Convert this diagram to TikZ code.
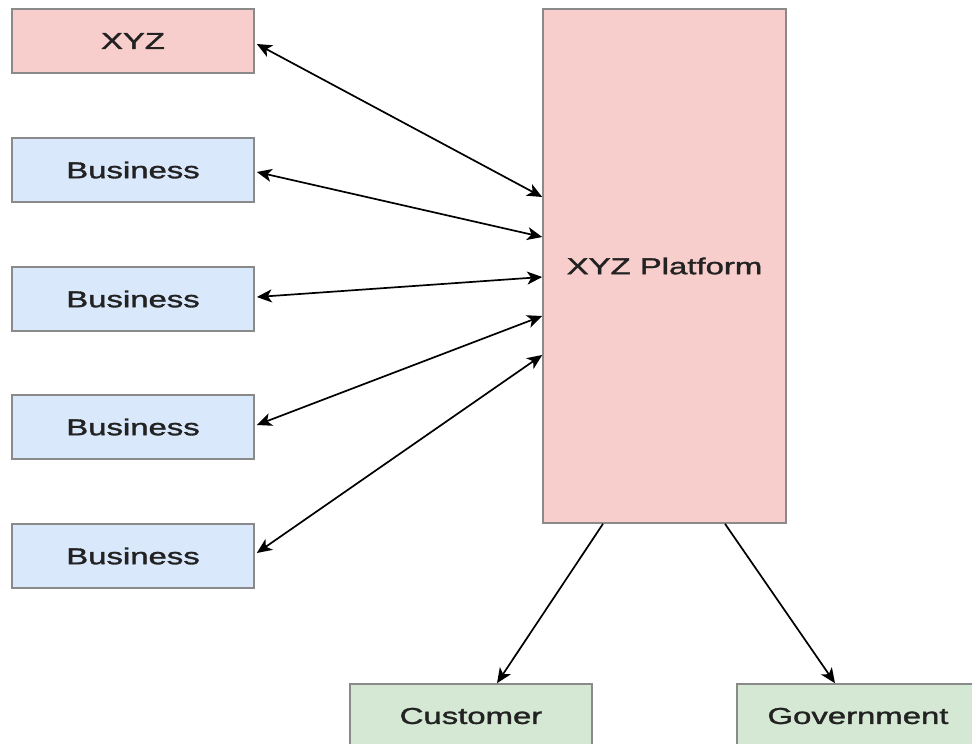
\documentclass[tikz,border=0pt]{standalone}
\usepackage{fontspec}
\setmainfont{Liberation Sans}
\newfontfamily\lblfont[FakeBold=1.3]{Liberation Sans}
\usetikzlibrary{arrows.meta}
\definecolor{pinkfill}{HTML}{F8CECC}
\definecolor{bluefill}{HTML}{DAE8FC}
\definecolor{greenfill}{HTML}{D5E8D4}
\definecolor{boxline}{HTML}{8A8A8A}
\definecolor{txt}{HTML}{222222}
\newcommand{\lbl}[1]{\scalebox{1.43}[1]{\lblfont\fontsize{23}{23}\selectfont #1}}
\tikzset{
  box/.style={draw=boxline, line width=1.6pt, minimum width=242pt, minimum height=64pt, inner sep=0pt, text=txt},
  redbox/.style={box, fill=pinkfill},
  bluebox/.style={box, fill=bluefill},
  greenbox/.style={box, fill=greenfill},
  tip/.tip={Stealth[length=15pt,width=13pt,inset=4pt]},
  conn/.style={line width=1.7pt, black, -tip},
  dconn/.style={conn, tip-tip}
}
\begin{document}
\begin{tikzpicture}[x=1pt,y=-1pt]
\useasboundingbox (0,0) rectangle (972,744);
\clip (0,0) rectangle (972,744);
\fill[white] (0,0) rectangle (972,744);
\node[redbox]  (xyz) at (133,41)  {\lbl{XYZ}};
\node[bluebox] (b1)  at (133,170) {\lbl{Business}};
\node[bluebox] (b2)  at (133,299) {\lbl{Business}};
\node[bluebox] (b3)  at (133,427) {\lbl{Business}};
\node[bluebox] (b4)  at (133,556) {\lbl{Business}};
\node[redbox, minimum width=243pt, minimum height=514pt] (plat) at (664.5,266) {\lbl{XYZ Platform}};
\node[greenbox] (cust) at (471,716) {\lbl{Customer}};
\node[greenbox] (gov)  at (858,716) {\lbl{Government}};
\draw[dconn] ([xshift=2pt,yshift=-3pt]xyz.east) -- ([yshift=69pt]plat.west);
\draw[dconn] ([xshift=2pt,yshift=-2pt]b1.east) -- ([yshift=29pt]plat.west);
\draw[dconn] ([xshift=2pt,yshift=2pt]b2.east) -- ([yshift=-11pt]plat.west);
\draw[dconn] ([xshift=2pt,yshift=2pt]b3.east) -- ([yshift=-50pt]plat.west);
\draw[dconn] ([xshift=2pt,yshift=3pt]b4.east) -- ([yshift=-89pt]plat.west);
\draw[conn] ([xshift=-61.5pt]plat.south) -- ([xshift=26pt]cust.north);
\draw[conn] ([xshift=60.5pt]plat.south) -- ([xshift=-23pt]gov.north);
\end{tikzpicture}
\end{document}
